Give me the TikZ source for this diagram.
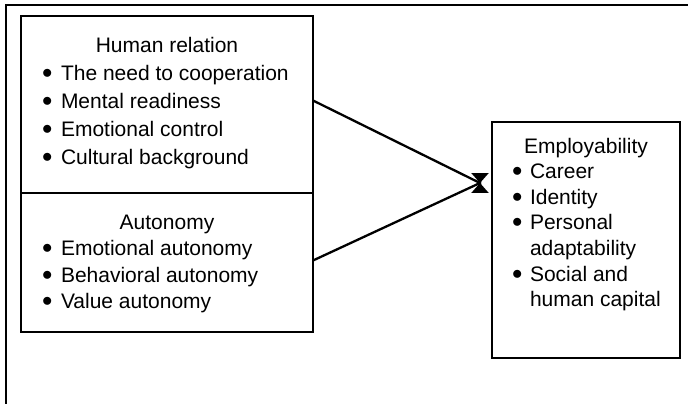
\documentclass[tikz,border=0pt]{standalone}
\usepackage{fontspec}
\setmainfont{Liberation Sans}
\usetikzlibrary{positioning,calc,arrows.meta}

\newlength{\bulw}
\setlength{\bulw}{19pt}
\newcommand{\bitem}[1]{\par\hangindent=\bulw\hangafter=1\noindent\makebox[\bulw][l]{\raisebox{2pt}{$\bullet$}}#1}
\newcommand{\head}[2]{{\centering\rule{0pt}{#1}#2\par}}

\begin{document}
\begin{tikzpicture}[x=1pt, y=-1pt, semithick]

%====Stili===================================================================

	\tikzstyle{frame}=[line width=1.8pt]
	\tikzstyle{box}=[draw, line width=1.7pt, inner sep=0pt, outer sep=0pt]
	\tikzstyle{link}=[-{Triangle[length=10pt,width=17pt]}, line width=2.3pt]

	\useasboundingbox (0,0) rectangle (688,404);
	\draw[frame] (6,404) -- (6,5) -- (688,5);

%====Riquadri================================================================

	\node[box, anchor=north west] (hr) at (21,16)
		{\parbox[c][177pt][t]{292pt}{\fontsize{21}{28}\selectfont
			\head{36pt}{Human relation}\leftskip=21pt
			\bitem{The need to cooperation}
			\bitem{Mental readiness}
			\bitem{Emotional control}
			\bitem{Cultural background}}};
	\node[box, below=0pt of hr] (au)
		{\parbox[c][139pt][t]{292pt}{\fontsize{21}{26.5}\selectfont
			\head{36pt}{Autonomy}\leftskip=21pt
			\bitem{Emotional autonomy}
			\bitem{Behavioral autonomy}
			\bitem{Value autonomy}}};
	\node[box, anchor=north west] (emp) at (492,122)
		{\parbox[c][236pt][t]{188pt}{\fontsize{21}{25.6}\selectfont\setlength{\bulw}{18pt}
			\head{31pt}{Employability}\leftskip=20pt
			\bitem{Career}
			\bitem{Identity}
			\bitem{Personal\newline adaptability}
			\bitem{Social and\newline human capital}}};

%====Collegamenti============================================================

	\coordinate (meet) at ([xshift=-12pt, yshift=57pt]emp.west);
	\draw[link] ([yshift=4pt]hr.east) -- (meet) -- ($(meet)+(0,0.01)$);
	\draw[link] ([yshift=2pt]au.east) -- (meet) -- ($(meet)+(0,-0.01)$);
\end{tikzpicture}
\end{document}
